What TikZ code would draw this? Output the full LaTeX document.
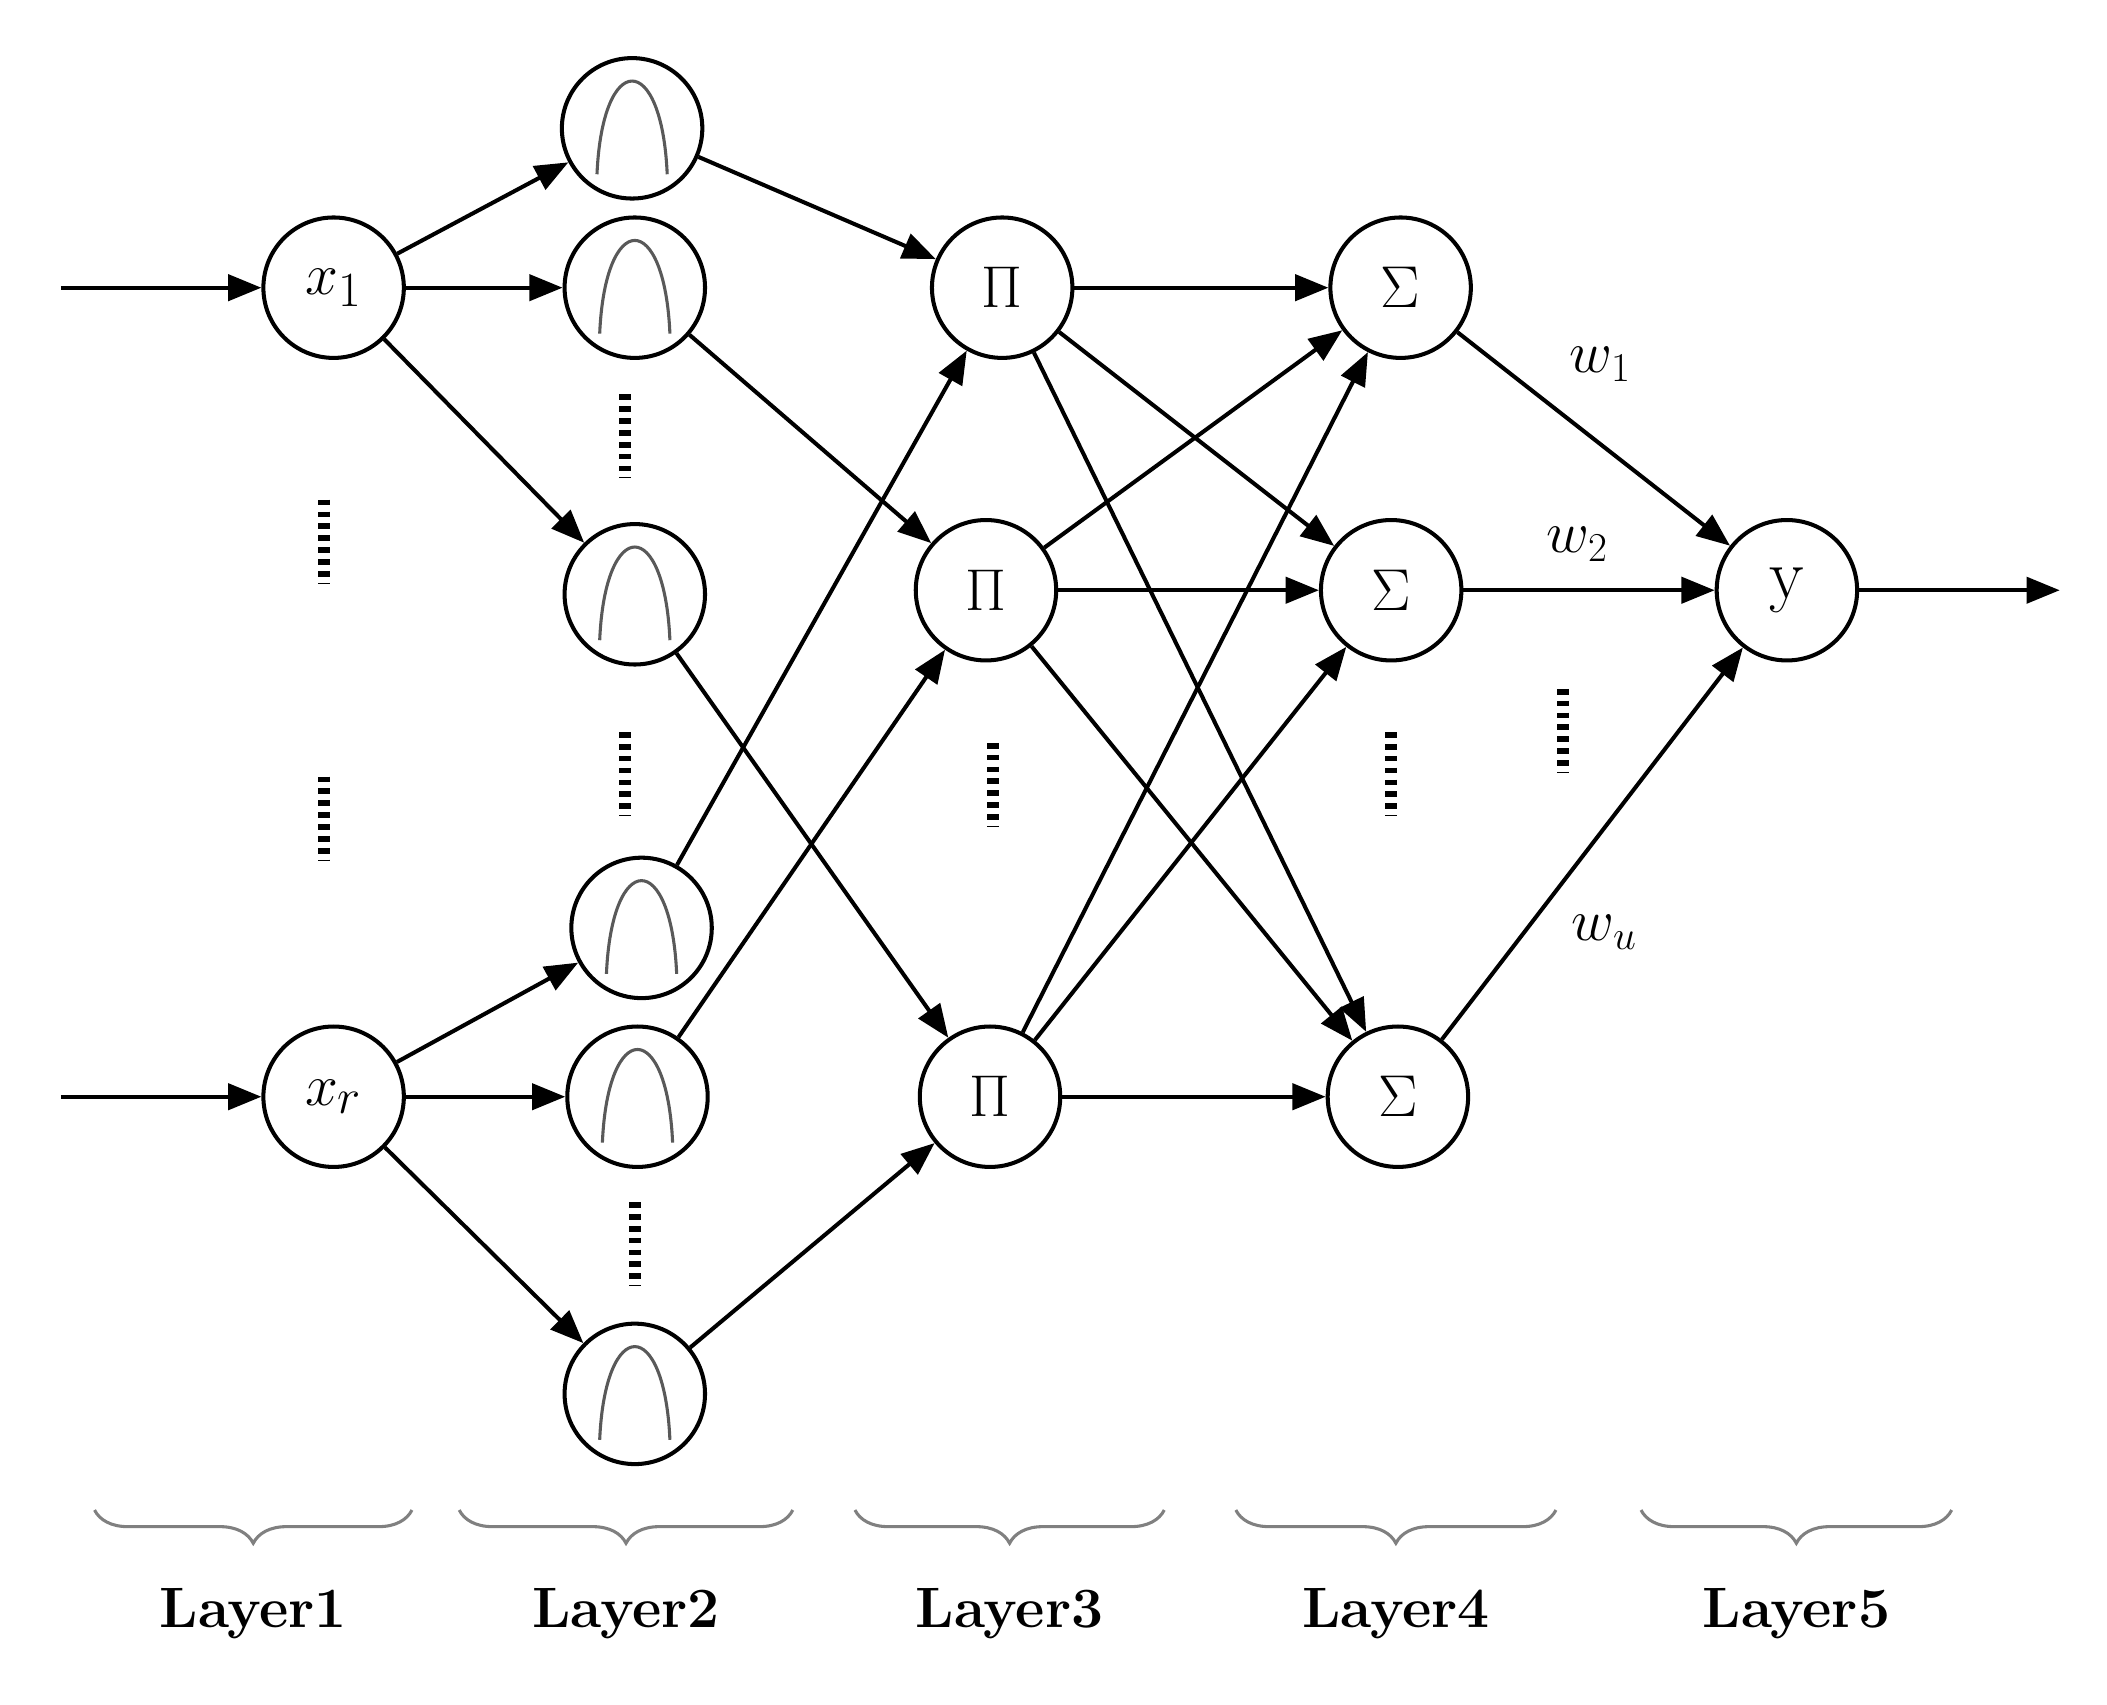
\documentclass[tikz,border=0pt]{standalone}
\usepackage{amsmath}
\usetikzlibrary{arrows.meta,decorations.pathreplacing}
\begin{document}
\begin{tikzpicture}[x=0.02cm,y=-0.02cm,
  nd/.style={circle,draw,line width=1.7pt,minimum size=2.08cm,inner sep=0pt,font=\fontsize{30}{34}\selectfont},
  ar/.style={line width=1.7pt,-{Triangle[length=14pt,width=11pt]}},
  bell/.style={gray!70!black,line width=1.3pt},
  dts/.style={line width=5pt,dash pattern=on 2.4pt off 2.6pt},
  br/.style={decorate,decoration={brace,mirror,amplitude=14pt},gray,line width=1.3pt},
  lab/.style={font=\fontsize{24}{28}\selectfont\bfseries}]
\useasboundingbox (0,0) rectangle (1560,1262);
\node[nd] (x1) at (247,213) {$x_1$};
\node[nd] (xr) at (247,812) {$x_r$};
\foreach \n/\x/\y in {a/468/95,b/470/213,c/470/440,d/475/687,e/472/812,f/470/1032}{
  \node[nd] (\n) at (\x,\y) {};
  \draw[bell] (\n.center) ++(-26,34) .. controls +(4,-92) and +(-4,-92) .. ++(52,0);
}
\node[nd] (p1) at (742,213) {$\Pi$};
\node[nd] (p2) at (730,437) {$\Pi$};
\node[nd] (p3) at (733,812) {$\Pi$};
\node[nd] (s1) at (1037,213) {$\Sigma$};
\node[nd] (s2) at (1030,437) {$\Sigma$};
\node[nd] (s3) at (1035,812) {$\Sigma$};
\node[nd] (y) at (1323,437) {y};
\coordinate (in1) at (45,213);
\coordinate (in2) at (45,812);
\coordinate (out) at (1525,437);
\draw[ar] (in1) -- (x1);
\draw[ar] (in2) -- (xr);
\draw[ar] (y) -- (out);
\foreach \t in {a,b,c} \draw[ar] (x1) -- (\t);
\foreach \t in {d,e,f} \draw[ar] (xr) -- (\t);
\draw[ar] (a) -- (p1); \draw[ar] (b) -- (p2); \draw[ar] (c) -- (p3);
\draw[ar] (d) -- (p1); \draw[ar] (e) -- (p2); \draw[ar] (f) -- (p3);
\foreach \p in {p1,p2,p3}{\foreach \s in {s1,s2,s3}{\draw[ar] (\p) -- (\s);}}
\foreach \s in {s1,s2,s3} \draw[ar] (\s) -- (y);
\node[font=\fontsize{24}{28}\selectfont] at (1185,270) {$w_1$};
\node[font=\fontsize{24}{28}\selectfont] at (1168,403) {$w_2$};
\node[font=\fontsize{24}{28}\selectfont] at (1188,690) {$w_u$};
\foreach \x/\y in {240/400,240/605,463/322,463/572,470/920,735/580,1030/572,1157/540}
  \draw[dts] (\x,\y-30) -- (\x,\y+32);
\foreach \a/\b/\i in {70/305/1,340/587/2,633/862/3,915/1152/4,1215/1445/5}{
  \draw[br] (\a,1118) -- (\b,1118);
  \node[lab] at ({(\a+\b)/2},1195) {Layer\i};
}
\end{tikzpicture}
\end{document}
